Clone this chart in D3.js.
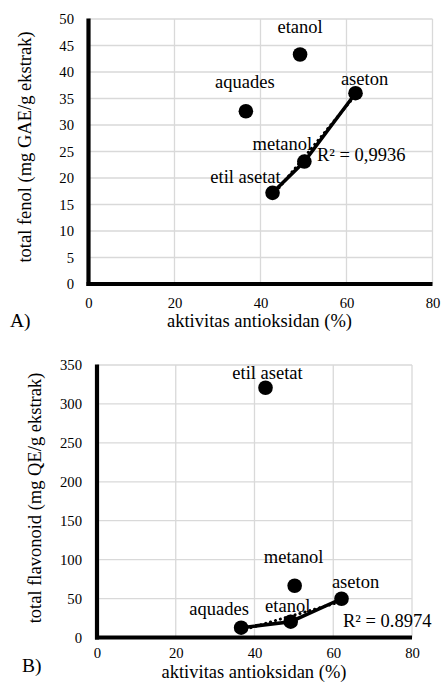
<!DOCTYPE html>
<html>
<head>
<meta charset="utf-8">
<script src="https://cdn.jsdelivr.net/npm/d3@7"></script>
<style>
  html, body { margin: 0; padding: 0; background: #fff; }
  svg { display: block; }
  text { font-family: "Liberation Serif", "Times New Roman", serif; fill: #000; }
</style>
</head>
<body>
<svg id="chart" width="441" height="684"></svg>
<script>
// ---- data ----
const solvents = ["aquades", "etanol", "metanol", "etil asetat", "aseton"];
const antioxidantActivity = [36.6, 49.2, 50.2, 42.8, 62.1];
const totalFenol = [32.6, 43.3, 23.1, 17.2, 36.0];
const totalFlavonoid = [12.6, 20.3, 66.5, 320.8, 49.8];
const trendA = ["etil asetat", "metanol", "aseton"];
const trendB = ["aquades", "etanol", "aseton"];
const xTicks = [0, 20, 40, 60, 80];
const yTicksA = [0, 5, 10, 15, 20, 25, 30, 35, 40, 45, 50];
const yTicksB = [0, 50, 100, 150, 200, 250, 300, 350];
const r2A = "R² = 0,9936";
const r2B = "R² = 0.8974";

// ---- layout (positions / styles) ----
const FONT = "'Liberation Serif', 'Times New Roman', serif";
const panels = [
  {
    values: totalFenol, trend: trendA, yTicks: yTicksA, yMax: 50,
    left: 88.5, right: 432.5, top: 19, bottom: 284,
    yTitle: "total fenol (mg GAE/g ekstrak)", yTitleX: 31, yTitleCY: 147,
    tickRight: 74, xTickDy: 23.5, xTitleX: 259.5, xTitleY: 327, panelLabel: "A)", panelX: 10, panelY: 327,
    r2: r2A, r2x: 317, r2y: 161,
    labelOffsets: { "aquades": [-1, -23], "etanol": [0, -22], "metanol": [-22, -12], "etil asetat": [-27, -10], "aseton": [9, -8] }
  },
  {
    values: totalFlavonoid, trend: trendB, yTicks: yTicksB, yMax: 350,
    left: 97, right: 412, top: 365, bottom: 637.5,
    yTitle: "total flavonoid (mg QE/g ekstrak)", yTitleX: 41, yTitleCY: 498,
    tickRight: 82, xTickDy: 20.5, xTitleX: 254, xTitleY: 678, panelLabel: "B)", panelX: 22, panelY: 672,
    r2: r2B, r2x: 343, r2y: 627,
    labelOffsets: { "aquades": [-22, -13], "etanol": [-3, -10], "metanol": [-1, -23], "etil asetat": [2, -9], "aseton": [14, -11] }
  }
];

const svg = d3.select("#chart");
const gridColor = "#d9d9d9";

panels.forEach(p => {
  const x = d3.scaleLinear().domain([0, 80]).range([p.left, p.right]);
  const y = d3.scaleLinear().domain([0, p.yMax]).range([p.bottom, p.top]);
  const g = svg.append("g");

  // gridlines
  g.append("g").selectAll("line").data(p.yTicks).join("line")
    .attr("x1", p.left).attr("x2", p.right)
    .attr("y1", d => y(d)).attr("y2", d => y(d))
    .attr("stroke", gridColor).attr("stroke-width", 1.3);
  g.append("g").selectAll("line").data(xTicks).join("line")
    .attr("x1", d => x(d)).attr("x2", d => x(d))
    .attr("y1", p.top).attr("y2", p.bottom)
    .attr("stroke", gridColor).attr("stroke-width", 1.3);

  // y axis ticks
  const yAxis = d3.axisLeft(y).tickValues(p.yTicks).tickSize(0).tickPadding(0);
  const ya = g.append("g").attr("transform", `translate(${p.tickRight},0)`).call(yAxis);
  ya.attr("font-family", null);
  ya.select(".domain").remove();
  ya.selectAll("text").attr("font-size", 14.7).style("font-family", FONT).attr("fill", "#000");

  // x axis ticks
  const xAxis = d3.axisBottom(x).tickValues(xTicks).tickSize(0).tickPadding(0);
  const xa = g.append("g").attr("transform", `translate(0,${p.bottom + p.xTickDy})`).call(xAxis);
  xa.attr("font-family", null);
  xa.select(".domain").remove();
  xa.selectAll("text").attr("dy", 0).attr("font-size", 14.7).style("font-family", FONT).attr("fill", "#000");

  // thick axis lines
  g.append("line").attr("x1", p.left).attr("x2", p.left).attr("y1", p.top - 0.5).attr("y2", p.bottom + 2)
    .attr("stroke", "#000").attr("stroke-width", 4.2);
  g.append("line").attr("x1", p.left - 2).attr("x2", p.right).attr("y1", p.bottom).attr("y2", p.bottom)
    .attr("stroke", "#000").attr("stroke-width", 4.2);

  // points
  const pts = solvents.map((s, i) => ({ name: s, x: antioxidantActivity[i], y: p.values[i] }));
  const tpts = p.trend.map(n => pts.find(d => d.name === n)).sort((a, b) => a.x - b.x);

  // linear trendline (dotted)
  const mx = d3.mean(tpts, d => d.x), my = d3.mean(tpts, d => d.y);
  const sxy = d3.sum(tpts, d => (d.x - mx) * (d.y - my));
  const sxx = d3.sum(tpts, d => (d.x - mx) ** 2);
  const slope = sxy / sxx, icpt = my - slope * mx;
  const x0 = tpts[0].x, x1 = tpts[tpts.length - 1].x;
  g.append("line")
    .attr("x1", x(x0)).attr("y1", y(icpt + slope * x0))
    .attr("x2", x(x1)).attr("y2", y(icpt + slope * x1))
    .attr("stroke", "#000").attr("stroke-width", 3).attr("stroke-dasharray", "0.1 5").attr("stroke-linecap", "round");

  // connecting line
  g.append("path").datum(tpts)
    .attr("d", d3.line().x(d => x(d.x)).y(d => y(d.y)))
    .attr("fill", "none").attr("stroke", "#000").attr("stroke-width", 3.5);

  g.append("g").selectAll("circle").data(pts).join("circle")
    .attr("cx", d => x(d.x)).attr("cy", d => y(d.y)).attr("r", 7.3).attr("fill", "#000");

  // data labels
  g.append("g").selectAll("text").data(pts).join("text")
    .attr("x", d => x(d.x) + p.labelOffsets[d.name][0])
    .attr("y", d => y(d.y) + p.labelOffsets[d.name][1])
    .attr("text-anchor", "middle").attr("font-size", 18.5).style("font-family", FONT)
    .text(d => d.name);

  // R² label
  g.append("text").attr("x", p.r2x).attr("y", p.r2y).attr("font-size", 18.5).style("font-family", FONT).text(p.r2);

  // titles
  g.append("text").attr("x", p.xTitleX).attr("y", p.xTitleY)
    .attr("text-anchor", "middle").attr("font-size", 18.5).style("font-family", FONT).text("aktivitas antioksidan (%)");
  g.append("text")
    .attr("transform", `translate(${p.yTitleX},${p.yTitleCY}) rotate(-90)`)
    .attr("text-anchor", "middle").attr("font-size", 18.5).style("font-family", FONT).text(p.yTitle);
  g.append("text").attr("x", p.panelX).attr("y", p.panelY).attr("font-size", 19.5).style("font-family", FONT).text(p.panelLabel);
});
</script>
</body>
</html>
